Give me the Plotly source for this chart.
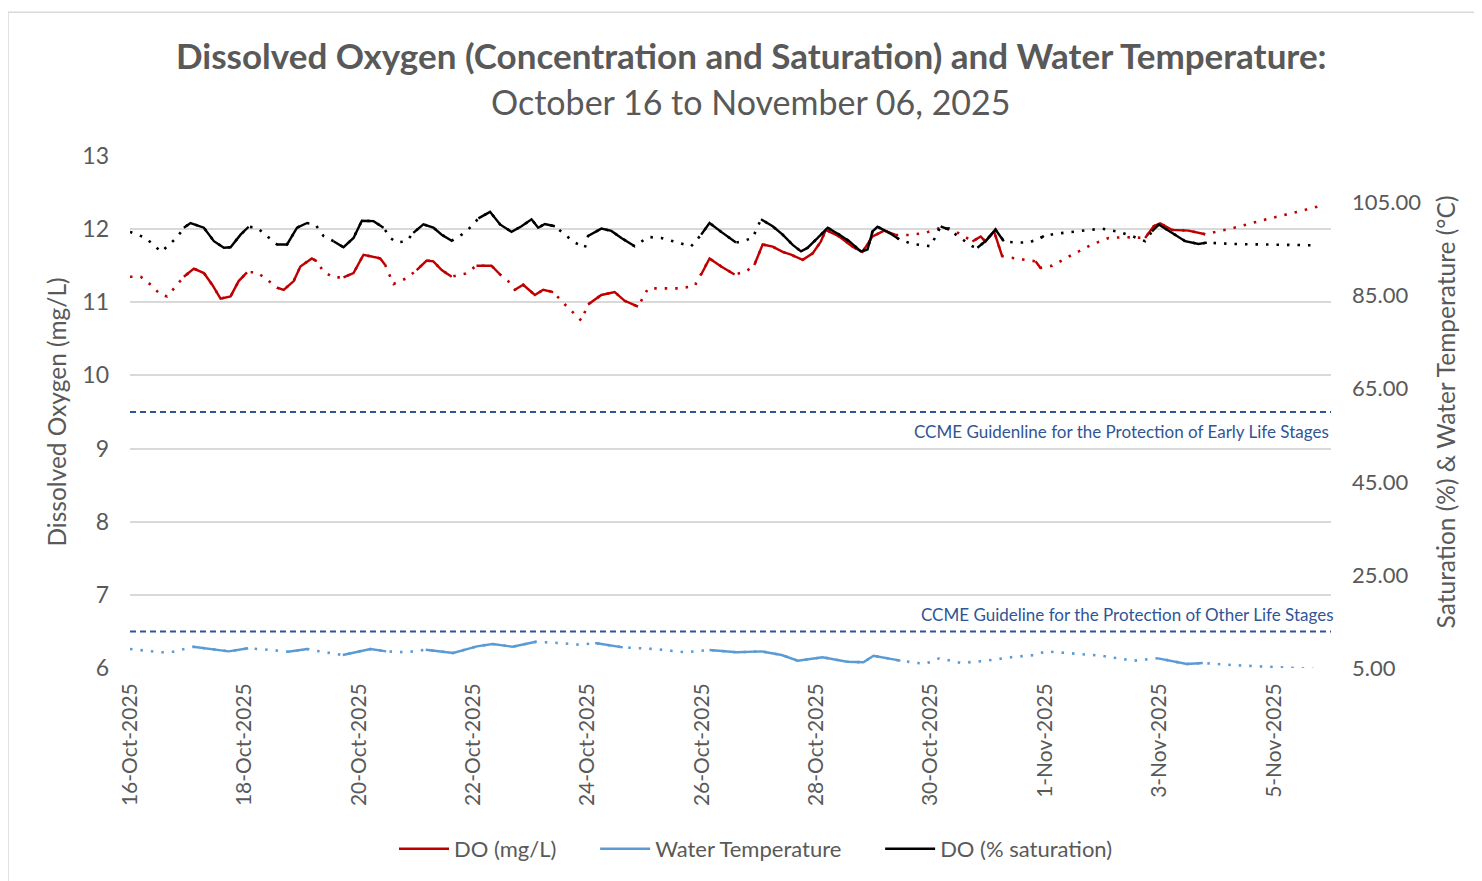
import pandas as pd
import plotly.graph_objects as go

# ---------------- DATA ----------------
start = pd.Timestamp("2025-10-16 00:00")

# DO (mg/L): hours since start, value, solid flag (1 = measured/solid, 0 = dotted)
do_mgl_hours = [0, 4.5, 8.7, 12.9, 15.6, 19.8, 22.6, 26.8, 31, 34.5, 38, 42.2, 45.6, 49.1,
                53.3, 57.5, 61.7, 64.5, 68.7, 71.5, 76.3, 78.4, 81.2, 85.4, 89.6, 93.8, 98,
                105, 107.1, 109.2, 110.6, 116.1, 120.3, 124.5, 127.3, 130.8, 135, 140.6,
                145.4, 151.7, 155.3, 158.7, 161.5, 165, 169.9, 173.4, 177.6, 182.5, 186.7,
                189.4, 192.2, 197.8, 203.4, 207.6, 213.2, 217.4, 222.9, 229.9, 236.9, 239.7,
                243.2, 248.1, 253.7, 258.5, 262, 265.5, 269.7, 273.9, 277.4, 282.3, 286.5,
                289.9, 292, 297.6, 303.2, 307.4, 311.6, 316.5, 321.3, 327, 333.9, 339.5,
                343.7, 349.3, 353.5, 357, 359, 362.6, 366, 371.6, 377.2, 380, 382.1, 387,
                395.4, 403.7, 410.7, 417.7, 426, 429.6, 432.3, 437.2, 444.2, 451.2, 462.4,
                476.3, 490.3, 498.7]
do_mgl = [11.35, 11.35, 11.24, 11.10, 11.08, 11.24, 11.35, 11.46, 11.40, 11.24, 11.05, 11.08,
          11.29, 11.41, 11.41, 11.31, 11.20, 11.17, 11.29, 11.49, 11.60, 11.56, 11.42, 11.34,
          11.34, 11.40, 11.65, 11.60, 11.51, 11.35, 11.25, 11.33, 11.44, 11.57, 11.56, 11.44,
          11.35, 11.39, 11.50, 11.50, 11.38, 11.29, 11.17, 11.24, 11.10, 11.17, 11.14, 10.97,
          10.83, 10.75, 10.97, 11.10, 11.14, 11.02, 10.94, 11.19, 11.19, 11.19, 11.22, 11.38,
          11.60, 11.49, 11.38, 11.42, 11.51, 11.79, 11.76, 11.69, 11.65, 11.58, 11.67, 11.83,
          11.99, 11.90, 11.76, 11.69, 11.90, 11.98, 11.92, 11.92, 11.95, 12.01, 12.01, 11.92,
          11.83, 11.90, 11.83, 11.97, 11.63, 11.60, 11.58, 11.56, 11.47, 11.50, 11.65, 11.79,
          11.88, 11.89, 11.88, 12.04, 12.08, 11.99, 11.98, 11.93, 12.01, 12.13, 12.24, 12.31]
do_mgl_solid = [0, 0, 0, 0, 0, 0, 1, 1, 1, 1, 1, 1, 1, 1, 0, 0, 1, 1, 1, 1, 1, 1, 0, 0,
                1, 1, 1, 1, 1, 0, 0, 0, 1, 1, 1, 1, 1, 0, 1, 1, 1, 0, 1, 1, 1, 1, 1, 0,
                0, 0, 1, 1, 1, 1, 1, 0, 0, 0, 0, 1, 1, 1, 1, 0, 1, 1, 1, 1, 1, 1, 1, 1,
                1, 1, 1, 1, 1, 1, 1, 0, 0, 0, 0, 0, 1, 1, 1, 1, 1, 0, 0, 1, 1, 0, 0, 0,
                0, 0, 1, 1, 1, 1, 1, 1, 0, 0, 0, 0]

# DO (% saturation)
do_sat_hours = [0, 6.6, 13.1, 19.7, 22.6, 25.4, 31, 35.2, 39.4, 42.2, 46.4, 49.8, 53.3, 57.5,
                61.7, 65.9, 70.1, 74.3, 77.8, 81.2, 85.4, 89.6, 93.8, 97.3, 102.2, 106.4,
                109.2, 111.9, 116.1, 118.9, 123.1, 127.3, 130.8, 135, 139.2, 143.4, 146.2,
                151.1, 155.3, 160.1, 164.3, 168.5, 171.3, 174.1, 178.3, 182.5, 186.7, 190.9,
                192.2, 197.8, 202, 206.2, 211.8, 217.4, 222.9, 229.9, 235.5, 239.7, 243.2,
                248.1, 254.3, 257.1, 261.3, 264.8, 269.7, 273.9, 278.1, 281.6, 284.4, 288.6,
                292.8, 297.7, 301.8, 306.7, 309.5, 311.6, 313.7, 318.6, 322.8, 328.3, 332.5,
                336, 340.2, 343.7, 349.3, 353.5, 355.6, 359, 363.2, 366.7, 371.6, 377.2,
                382.1, 383.5, 388.4, 398.1, 407.9, 414.9, 420.5, 426, 428.9, 431.7, 437.2,
                442.8, 448.4, 451.9, 462.4, 476.3, 490.3, 498.7]
do_sat = [98.7, 97.4, 94.4, 97.5, 99.6, 100.6, 99.6, 96.7, 95.3, 95.4, 98.1, 99.8, 99.6, 97.8,
          96.0, 96.0, 99.6, 100.6, 100.3, 97.8, 96.7, 95.4, 97.4, 101.1, 101.0, 99.6, 97.4,
          96.4, 96.7, 98.5, 100.3, 99.6, 98.1, 96.8, 98.1, 99.9, 101.6, 103.0, 100.3, 98.7,
          99.9, 101.4, 99.6, 100.4, 99.9, 98.1, 96.4, 95.3, 97.8, 99.4, 98.9, 97.4, 95.6,
          97.6, 97.4, 96.4, 95.6, 98.1, 100.6, 98.7, 96.4, 96.7, 97.4, 101.4, 99.9, 98.1,
          95.9, 94.5, 95.3, 97.4, 99.6, 98.1, 96.7, 94.5, 94.9, 98.8, 99.8, 98.5, 97.1, 96.1,
          95.8, 95.6, 99.9, 99.2, 97.1, 95.6, 95.3, 96.7, 99.2, 96.7, 96.4, 96.4, 97.4, 97.8,
          98.3, 98.8, 99.4, 98.7, 97.8, 96.7, 98.8, 100.3, 98.5, 96.7, 96.1, 96.4, 96.1,
          96.0, 95.8, 95.8]
do_sat_solid = [0, 0, 0, 0, 1, 1, 1, 1, 1, 1, 1, 1, 0, 0, 1, 1, 1, 1, 0, 0, 1, 1, 1, 1,
                1, 1, 0, 0, 0, 1, 1, 1, 1, 1, 0, 0, 1, 1, 1, 1, 1, 1, 1, 1, 1, 0, 0, 0,
                1, 1, 1, 1, 1, 0, 0, 0, 0, 1, 1, 1, 1, 0, 0, 1, 1, 1, 1, 1, 1, 1, 1, 1,
                1, 1, 1, 1, 1, 1, 1, 0, 0, 0, 1, 1, 0, 0, 1, 1, 1, 1, 0, 0, 1, 1, 0, 0,
                0, 0, 0, 0, 1, 1, 1, 1, 1, 1, 0, 0, 0, 0]

# Water temperature (deg C)
wt_hours = [0, 13.2, 18.2, 26.5, 41.4, 49.6, 59.6, 66.2, 74.5, 79.4, 89.3, 100.9, 107.5,
            115.8, 124.1, 135.6, 145.6, 152.2, 160.5, 170.4, 180.3, 188.6, 195.2, 206.8,
            220, 233.3, 243.2, 254.6, 264.9, 273.5, 280.2, 290.6, 300.9, 307.8, 312, 323.3,
            333.6, 339.6, 349, 359.3, 369.6, 379.8, 384.3, 393.7, 407.5, 421.1, 431.4,
            443.5, 450.2, 462.4, 479.5, 488.1, 496.7]
wt = [9.08, 8.37, 8.50, 9.57, 8.58, 9.23, 8.86, 8.50, 9.08, 8.58, 7.79, 9.08, 8.58, 8.37,
      8.93, 8.22, 9.66, 10.15, 9.57, 10.64, 10.36, 10.00, 10.36, 9.44, 9.08, 8.37, 8.86,
      8.37, 8.58, 7.79, 6.57, 7.30, 6.35, 6.22, 7.64, 6.57, 5.86, 7.08, 6.07, 6.57, 7.30,
      7.79, 8.58, 8.22, 7.64, 6.57, 7.08, 5.86, 6.07, 5.64, 5.15, 4.94, 4.79]
wt_solid = [0, 0, 0, 1, 1, 1, 0, 1, 1, 0, 1, 1, 1, 0, 1, 1, 1, 1, 1, 1, 0, 0, 1, 1, 0, 0,
            1, 1, 1, 1, 1, 1, 1, 1, 1, 1, 0, 1, 0, 1, 0, 0, 1, 0, 0, 0, 1, 1, 1, 0, 0, 0, 0]

# CCME guidelines (mg/L)
guide_early = 9.5
guide_other = 6.5
guide_early_label = "CCME Guidenline for the Protection of Early Life Stages"
guide_other_label = "CCME Guideline for the Protection of Other Life Stages"

# Axis ticks
x_tick_dates = ["2025-10-16", "2025-10-18", "2025-10-20", "2025-10-22", "2025-10-24",
                "2025-10-26", "2025-10-28", "2025-10-30", "2025-11-01", "2025-11-03",
                "2025-11-05"]
x_tick_labels = ["16-Oct-2025", "18-Oct-2025", "20-Oct-2025", "22-Oct-2025", "24-Oct-2025",
                 "26-Oct-2025", "28-Oct-2025", "30-Oct-2025", "1-Nov-2025", "3-Nov-2025",
                 "5-Nov-2025"]
x_range = ["2025-10-16", "2025-11-06"]
y_left_ticks = [6, 7, 8, 9, 10, 11, 12, 13]
y_right_ticks = [5, 25, 45, 65, 85, 105]

# ---------------- FIGURE ----------------
FONT = "Lato"
GREY = "#595959"
RED = "#C00000"
BLUE = "#5B9BD5"
BLACK = "#000000"
NAVY = "#2F5597"
DOT = "2.5px,8px"
PAD = "\u00a0" * 6


def to_time(hours):
    return [start + pd.Timedelta(hours=h) for h in hours]


def solid_only(vals, flags):
    return [v if f else None for v, f in zip(vals, flags)]


fig = go.Figure()

series = [
    ("DO (mg/L)" + PAD, do_mgl_hours, do_mgl, do_mgl_solid, RED, "y"),
    ("Water Temperature" + PAD, wt_hours, wt, wt_solid, BLUE, "y2"),
    ("DO (% saturation)", do_sat_hours, do_sat, do_sat_solid, BLACK, "y2"),
]

# dotted (full) traces underneath
for name, hrs, vals, flags, col, yax in series:
    fig.add_trace(go.Scatter(x=to_time(hrs), y=vals, mode="lines", yaxis=yax,
                             line=dict(color=col, width=2.6, dash=DOT),
                             showlegend=False, hoverinfo="skip"))
# solid traces on top
for name, hrs, vals, flags, col, yax in series:
    fig.add_trace(go.Scatter(x=to_time(hrs), y=solid_only(vals, flags), mode="lines",
                             yaxis=yax, name=name, connectgaps=False,
                             line=dict(color=col, width=2.4)))

# guideline lines
for g in (guide_early, guide_other):
    fig.add_trace(go.Scatter(x=x_range, y=[g, g], mode="lines", yaxis="y",
                             line=dict(color=NAVY, width=2, dash="6px,4px"),
                             showlegend=False, hoverinfo="skip"))

fig.add_annotation(x=1.0, xref="paper", xanchor="right", y=guide_early, yref="y",
                   yshift=-19, text=guide_early_label, showarrow=False,
                   font=dict(family=FONT, size=17, color=NAVY))
fig.add_annotation(x=1.004, xref="paper", xanchor="right", y=guide_other, yref="y",
                   yshift=17, text=guide_other_label, showarrow=False,
                   font=dict(family=FONT, size=17, color=NAVY))

# title lines
fig.add_annotation(x=(751 - 130) / 1201, xref="paper", y=(669 - 55) / 513, yref="paper",
                   text="<b>Dissolved Oxygen (Concentration and Saturation) and Water Temperature:</b>",
                   showarrow=False, xanchor="center", yanchor="middle",
                   font=dict(family=FONT, size=35, color=GREY))
fig.add_annotation(x=(751 - 130) / 1201, xref="paper", y=(669 - 101) / 513, yref="paper",
                   text="October 16 to November 06, 2025",
                   showarrow=False, xanchor="center", yanchor="middle",
                   font=dict(family=FONT, size=34, color=GREY))

# chart-area border
fig.add_shape(type="rect", xref="paper", yref="paper",
              x0=(8 - 130) / 1201, x1=(1492 - 130) / 1201,
              y0=(669 - 891) / 513, y1=(669 - 12) / 513,
              line=dict(color="#D9D9D9", width=1.5), layer="below")

fig.update_layout(
    width=1474, height=873,
    margin=dict(l=122, r=151, t=148, b=212),
    paper_bgcolor="white", plot_bgcolor="white",
    font=dict(family=FONT, color=GREY, size=20),
    showlegend=True,
    legend=dict(orientation="h", x=(756 - 130) / 1201, xanchor="center",
                y=(669 - 849) / 513, yanchor="middle",
                font=dict(family=FONT, size=22, color=GREY),
                itemwidth=50, tracegroupgap=0, bgcolor="rgba(0,0,0,0)"),
    xaxis=dict(type="date", range=x_range, tickvals=x_tick_dates, ticktext=x_tick_labels,
               tickangle=-90, showgrid=False, showline=False, zeroline=False,
               ticks="", ticklabelstandoff=10,
               tickfont=dict(family=FONT, size=21, color=GREY)),
    yaxis=dict(range=[6, 13], tickvals=y_left_ticks, showgrid=True, gridcolor="#D9D9D9",
               gridwidth=2, zeroline=False, showline=False, ticks="",
               ticklabelstandoff=20,
               tickfont=dict(family=FONT, size=23, color=GREY),
               title=dict(text="Dissolved Oxygen (mg/L)", standoff=8,
                          font=dict(family=FONT, size=24.5, color=GREY))),
    yaxis2=dict(range=[5, 115], tickvals=y_right_ticks, tickformat=".2f", overlaying="y",
                side="right", showgrid=False, zeroline=False, showline=False, ticks="",
                ticklabelstandoff=20,
                tickfont=dict(family=FONT, size=22, color=GREY),
                title=dict(text="Saturation (%) & Water Temperature (°C)", standoff=17,
                           font=dict(family=FONT, size=24.5, color=GREY))),
)

fig.write_html("out.html")
